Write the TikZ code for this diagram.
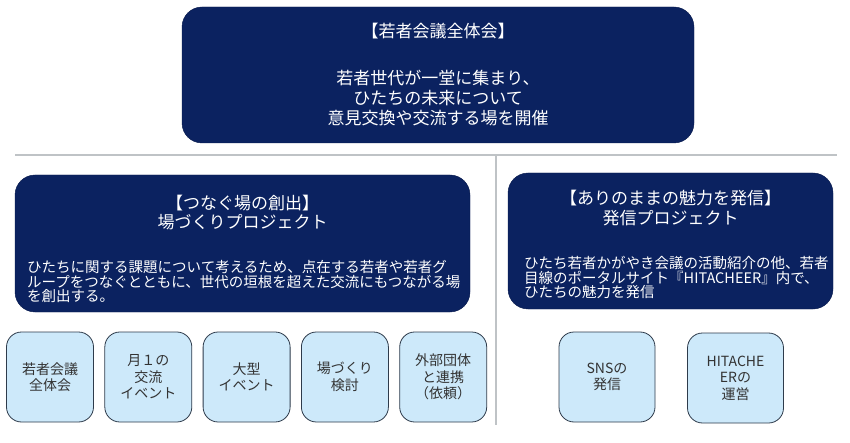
\documentclass[tikz,border=0pt]{standalone}
\usepackage{fontspec}
\setmainfont{Noto Sans CJK JP}
\usetikzlibrary{positioning}
\definecolor{navy}{HTML}{0B2260}
\definecolor{paleblue}{HTML}{CDE9FA}
\definecolor{edgegray}{HTML}{2E3B4B}
\definecolor{rulegray}{HTML}{BFC3C6}
\definecolor{itemtext}{HTML}{333333}

\tikzset{
  darkbox/.style={fill=navy, draw=navy!80!black, rounded corners=20pt, text=white},
  itembox/.style={draw=edgegray, thick, fill=paleblue, rounded corners=15pt,
    minimum width=87pt, minimum height=90pt, align=center, text=itemtext,
    font=\fontsize{14}{16.5}\selectfont},
  headtext/.style={text=white, align=center, inner sep=0pt,
    font=\fontsize{17}{19.5}\selectfont},
  bodytext/.style={text=white, align=left, inner sep=0pt, anchor=west,
    font=\fontsize{14.5}{14.5}\selectfont},
  divider/.style={draw=rulegray, line width=1.3pt}
}

\begin{document}
\begin{tikzpicture}[x=1pt, y=-1pt]
  \useasboundingbox[fill=white] (0,0) rectangle (850,443);

  % whole meeting
  \node[darkbox, minimum width=512pt, minimum height=136pt, align=center,
    font=\fontsize{17}{20}\selectfont] (zentai) at (438,75)
    {【若者会議全体会】\\[27pt]若者世代が一堂に集まり、\\ひたちの未来について\\意見交換や交流する場を開催};

  % dividers
  \coordinate (ruleL) at (15,155);
  \coordinate (ruleR) at (837,155);
  \coordinate (ruleM) at (496,155);
  \coordinate (ruleB) at (496,425);
  \draw[divider] (ruleL) -- (ruleR);
  \draw[divider] (ruleM) -- (ruleB);

  % left project
  \node[darkbox, minimum width=455pt, minimum height=137pt] (bazukuri) at (242.5,243.5) {};
  \node[headtext] at (242.5,212.5) {【つなぐ場の創出】\\場づくりプロジェクト};
  \node[bodytext] at (27,281.5)
    {ひたちに関する課題について考えるため、点在する若者や若者グ\\ループをつなぐとともに、世代の垣根を超えた交流にもつながる場\\を創出する。};

  % right project
  \node[darkbox, minimum width=325pt, minimum height=136pt] (hasshin) at (670.5,241) {};
  \node[headtext] at (670.5,208) {【ありのままの魅力を発信】\\発信プロジェクト};
  \node[bodytext] at (524,277.5)
    {ひたち若者かがやき会議の活動紹介の他、若者\\目線のポータルサイト『HITACHEER』内で、\\ひたちの魅力を発信};

  % activities
  \node[itembox] (kaigi) at (50,377) {若者会議\\全体会};
  \node[itembox, right=10.5pt of kaigi] (tsuki) {月１の\\交流\\イベント};
  \node[itembox, right=10.5pt of tsuki] (ogata) {大型\\イベント};
  \node[itembox, right=10.5pt of ogata] (kento) {場づくり\\検討};
  \node[itembox, right=10.5pt of kento] (renkei) {外部団体\\と連携\\（依頼）};

  \node[itembox, minimum width=96pt] (sns) at (607,377) {SNSの\\発信};
  \node[itembox, minimum width=96pt] (unei) at (735.5,378) {HITACHE\\ERの\\運営};
\end{tikzpicture}
\end{document}
